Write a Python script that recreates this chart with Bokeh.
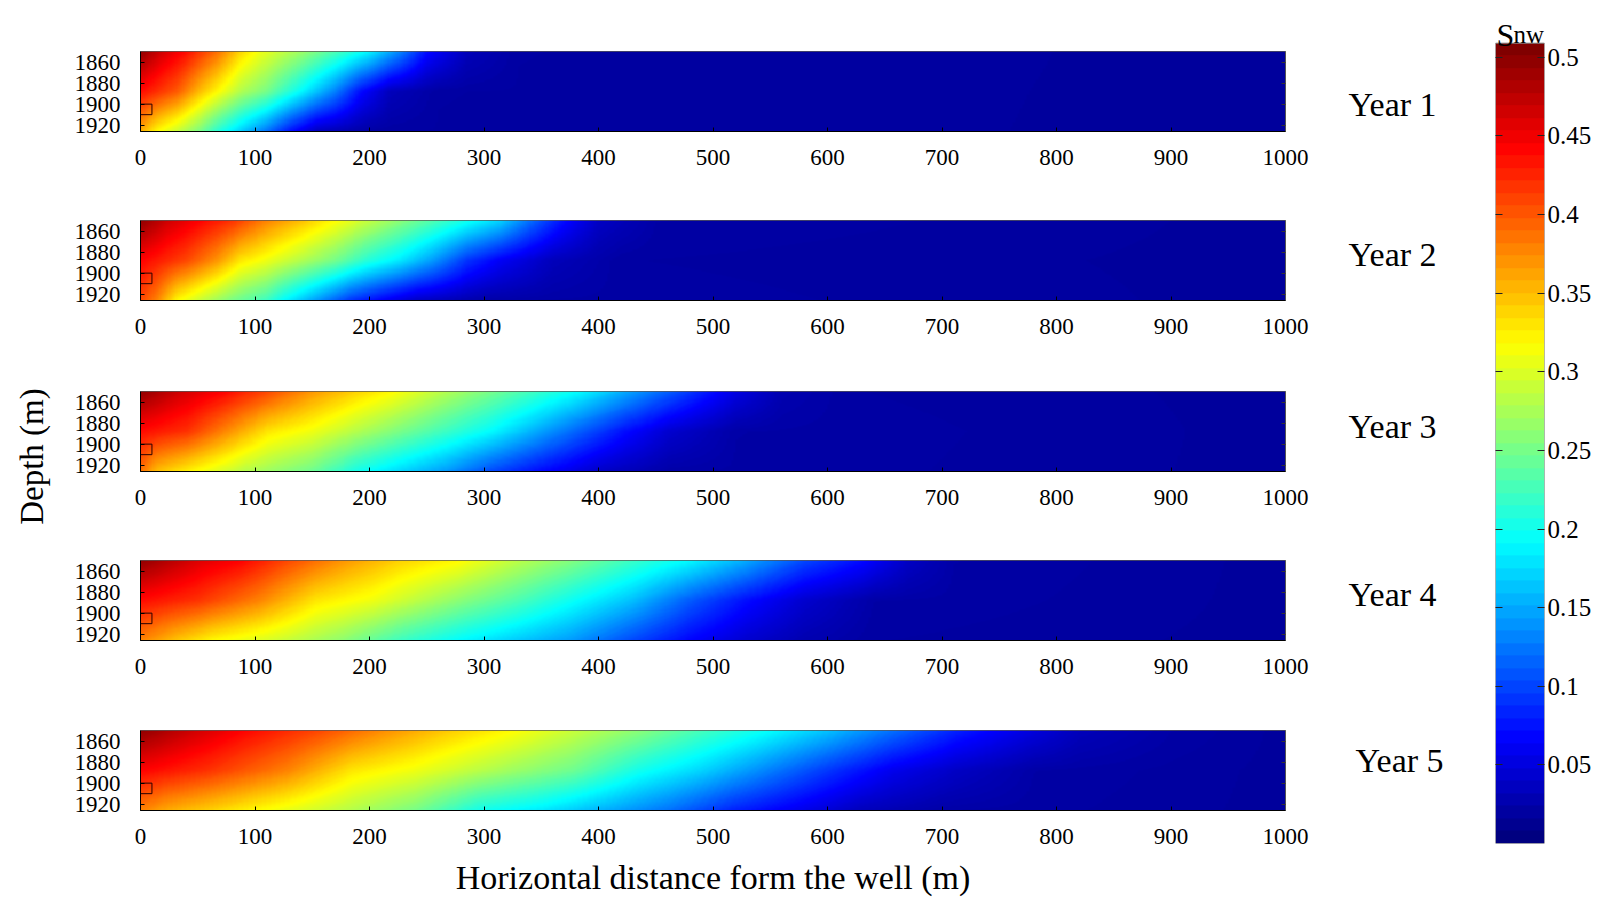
import numpy as np
from bokeh.plotting import figure
from bokeh.layouts import column, row
from bokeh.models import (Range1d, LinearAxis, FixedTicker,
                          LinearColorMapper, CustomJSTickFormatter)
from bokeh.core.properties import value
from bokeh.embed import file_html
from bokeh.resources import INLINE

# ---------------- data ----------------
YEARS = ["Year 1", "Year 2", "Year 3", "Year 4", "Year 5"]
X_TICKS = [0, 100, 200, 300, 400, 500, 600, 700, 800, 900, 1000]
DEPTH_TICKS = [1860, 1880, 1900, 1920]
CBAR_TICKS = [0.05, 0.1, 0.15, 0.2, 0.25, 0.3, 0.35, 0.4, 0.45, 0.5]
X_MAX = 1000
DEPTH_TOP, DEPTH_MID, DEPTH_BOT = 1850, 1888, 1926
S_LOW, S_HIGH = 0.0, 0.509
WELL_X = [0, 10]
WELL_DEPTH = [1900, 1910]

# saturation (Snw) read along the top, middle and bottom of each section
Y1_TOP_X = [0, 17, 40, 67, 87, 105, 140, 169, 198, 227, 250, 285, 330, 1000]
Y1_TOP_S = [0.50, 0.47, 0.44, 0.39, 0.34, 0.31, 0.27, 0.23, 0.19, 0.13, 0.07, 0.03, 0.018, 0.015]
Y1_MID_X = [0, 32, 52, 67, 87, 110, 140, 169, 192, 218, 260, 1000]
Y1_MID_S = [0.44, 0.40, 0.35, 0.32, 0.28, 0.25, 0.19, 0.13, 0.07, 0.03, 0.018, 0.015]
Y1_BOT_X = [0, 14, 32, 52, 67, 81, 110, 131, 154, 200, 1000]
Y1_BOT_S = [0.36, 0.32, 0.29, 0.25, 0.21, 0.18, 0.12, 0.07, 0.03, 0.018, 0.015]

Y2_TOP_X = [0, 23, 52, 81, 110, 140, 169, 198, 227, 256, 285, 314, 340, 370, 400, 450, 1000]
Y2_TOP_S = [0.50, 0.47, 0.445, 0.42, 0.38, 0.35, 0.32, 0.29, 0.26, 0.23, 0.20, 0.17, 0.12, 0.07, 0.035, 0.02, 0.015]
Y2_MID_X = [0, 40, 67, 87, 110, 140, 169, 198, 227, 256, 285, 314, 360, 420, 1000]
Y2_MID_S = [0.445, 0.41, 0.37, 0.33, 0.31, 0.28, 0.25, 0.21, 0.18, 0.14, 0.09, 0.06, 0.03, 0.018, 0.015]
Y2_BOT_X = [0, 14, 32, 52, 81, 110, 125, 154, 183, 212, 241, 300, 1000]
Y2_BOT_S = [0.41, 0.38, 0.32, 0.29, 0.25, 0.22, 0.19, 0.14, 0.09, 0.06, 0.035, 0.02, 0.015]

Y3_TOP_X = [0, 33, 72, 111, 150, 189, 220, 267, 306, 345, 384, 423, 462, 490, 520, 560, 620, 1000]
Y3_TOP_S = [0.50, 0.47, 0.445, 0.41, 0.37, 0.34, 0.32, 0.28, 0.25, 0.22, 0.19, 0.15, 0.11, 0.08, 0.05, 0.025, 0.018, 0.015]
Y3_MID_X = [0, 41, 72, 111, 150, 189, 228, 267, 306, 345, 384, 423, 462, 520, 1000]
Y3_MID_S = [0.44, 0.42, 0.38, 0.33, 0.31, 0.28, 0.25, 0.22, 0.19, 0.15, 0.11, 0.07, 0.04, 0.02, 0.015]
Y3_BOT_X = [0, 14, 45, 92, 150, 189, 228, 267, 306, 345, 403, 462, 1000]
Y3_BOT_S = [0.39, 0.35, 0.32, 0.28, 0.245, 0.20, 0.17, 0.14, 0.10, 0.07, 0.035, 0.02, 0.015]

Y4_TOP_X = [0, 53, 88, 128, 178, 228, 278, 328, 378, 429, 479, 529, 579, 629, 670, 710, 1000]
Y4_TOP_S = [0.50, 0.46, 0.445, 0.41, 0.37, 0.34, 0.32, 0.285, 0.255, 0.22, 0.19, 0.15, 0.10, 0.07, 0.035, 0.02, 0.015]
Y4_MID_X = [0, 50, 103, 153, 203, 278, 328, 378, 429, 479, 529, 579, 640, 1000]
Y4_MID_S = [0.44, 0.42, 0.38, 0.33, 0.31, 0.26, 0.23, 0.195, 0.16, 0.11, 0.07, 0.04, 0.02, 0.015]
Y4_BOT_X = [0, 28, 63, 128, 178, 228, 278, 328, 378, 429, 479, 529, 579, 640, 1000]
Y4_BOT_S = [0.38, 0.35, 0.32, 0.29, 0.26, 0.22, 0.19, 0.165, 0.14, 0.10, 0.065, 0.04, 0.025, 0.018, 0.015]

Y5_TOP_X = [0, 45, 89, 156, 212, 267, 323, 379, 435, 490, 546, 602, 657, 713, 773, 820, 900, 1000]
Y5_TOP_S = [0.50, 0.47, 0.445, 0.41, 0.375, 0.345, 0.32, 0.29, 0.26, 0.225, 0.195, 0.16, 0.12, 0.08, 0.05, 0.03, 0.02, 0.015]
Y5_MID_X = [0, 60, 128, 184, 240, 323, 379, 435, 490, 546, 602, 657, 713, 780, 1000]
Y5_MID_S = [0.445, 0.42, 0.38, 0.33, 0.31, 0.27, 0.245, 0.20, 0.17, 0.13, 0.09, 0.055, 0.035, 0.02, 0.015]
Y5_BOT_X = [0, 22, 61, 100, 184, 240, 295, 351, 407, 462, 518, 574, 630, 700, 1000]
Y5_BOT_S = [0.38, 0.36, 0.34, 0.32, 0.28, 0.25, 0.20, 0.18, 0.15, 0.12, 0.08, 0.055, 0.03, 0.02, 0.015]

SECTIONS = [
    (Y1_TOP_X, Y1_TOP_S, Y1_MID_X, Y1_MID_S, Y1_BOT_X, Y1_BOT_S),
    (Y2_TOP_X, Y2_TOP_S, Y2_MID_X, Y2_MID_S, Y2_BOT_X, Y2_BOT_S),
    (Y3_TOP_X, Y3_TOP_S, Y3_MID_X, Y3_MID_S, Y3_BOT_X, Y3_BOT_S),
    (Y4_TOP_X, Y4_TOP_S, Y4_MID_X, Y4_MID_S, Y4_BOT_X, Y4_BOT_S),
    (Y5_TOP_X, Y5_TOP_S, Y5_MID_X, Y5_MID_S, Y5_BOT_X, Y5_BOT_S),
]

# ---------------- styling / layout ----------------
FONT = "Liberation Serif"
TICK_FONT_SIZE = "23px"


def jet(n):
    cols = []
    for i in range(n):
        t = i / (n - 1)
        r = min(max(1.5 - abs(4 * t - 3), 0), 1)
        g = min(max(1.5 - abs(4 * t - 2), 0), 1)
        b = min(max(1.5 - abs(4 * t - 1), 0), 1)
        cols.append("#%02x%02x%02x" % (int(round(r * 255)), int(round(g * 255)), int(round(b * 255))))
    return cols


mapper = LinearColorMapper(palette=jet(256), low=S_LOW, high=S_HIGH)
mapper64 = LinearColorMapper(palette=jet(64), low=S_LOW, high=S_HIGH)

NX, NY = 500, 76


def section_image(tx, ts, mx, ms, bx, bs):
    xc = (np.arange(NX) + 0.5) * X_MAX / NX
    top = np.interp(xc, tx, ts)
    mid = np.interp(xc, mx, ms)
    bot = np.interp(xc, bx, bs)
    dc = DEPTH_TOP + (np.arange(NY) + 0.5) * (DEPTH_BOT - DEPTH_TOP) / NY
    rows = []
    for d in dc:
        if d <= DEPTH_MID:
            t = (d - DEPTH_TOP) / (DEPTH_MID - DEPTH_TOP)
            rows.append(top * (1 - t) + mid * t)
        else:
            t = (d - DEPTH_MID) / (DEPTH_BOT - DEPTH_MID)
            rows.append(mid * (1 - t) + bot * t)
    return np.array(rows)


def blank(width, height, x_range, y_range):
    f = figure(width=width, height=height, x_range=x_range, y_range=y_range,
               min_border=0, x_axis_location=None, y_axis_location=None,
               toolbar_location=None, output_backend="svg",
               background_fill_color="white", border_fill_color="white")
    f.grid.visible = False
    f.outline_line_color = None
    return f


# per panel: figure height, top border, bottom border
PANEL_LAYOUT = [(176, 51, 45), (169, 44, 45), (171, 46, 45), (169, 44, 45), (215, 45, 90)]

panels = []
for k, (sec, lay) in enumerate(zip(SECTIONS, PANEL_LAYOUT)):
    h, bt, bb = lay
    p = figure(width=1255, height=h, x_range=Range1d(0, X_MAX),
               y_range=Range1d(DEPTH_BOT, DEPTH_TOP),
               min_border_left=80, min_border_right=30,
               min_border_top=bt, min_border_bottom=bb,
               toolbar_location=None, output_backend="svg",
               background_fill_color="white", border_fill_color="white")
    img = section_image(*sec)
    p.image(image=[img], x=0, y=DEPTH_TOP, dw=X_MAX, dh=DEPTH_BOT - DEPTH_TOP,
            color_mapper=mapper)
    p.quad(left=[WELL_X[0]], right=[WELL_X[1]], top=[WELL_DEPTH[0]], bottom=[WELL_DEPTH[1]],
           fill_color=None, line_color="#2a0000", line_width=1)
    p.grid.visible = False
    p.outline_line_color = "#555555"
    p.xaxis.ticker = FixedTicker(ticks=X_TICKS)
    p.yaxis.ticker = FixedTicker(ticks=DEPTH_TICKS)
    for ax in (p.xaxis[0], p.yaxis[0]):
        ax.major_label_text_font = FONT
        ax.major_label_text_font_size = TICK_FONT_SIZE
        ax.major_label_text_color = "black"
        ax.axis_line_color = "black"
        ax.major_tick_line_color = "black"
        ax.major_tick_in = 4
        ax.major_tick_out = 0
        ax.minor_tick_line_color = None
    p.xaxis.major_label_standoff = 18
    p.yaxis.major_label_standoff = 20
    rax = LinearAxis(ticker=FixedTicker(ticks=DEPTH_TICKS), major_label_text_font_size="0px",
                     major_tick_in=4, major_tick_out=0, minor_tick_line_color=None,
                     axis_line_color="#555555", major_tick_line_color="#333333",
                     major_label_standoff=0)
    p.add_layout(rax, "right")
    panels.append(p)

# x axis title on the lowest section
panels[-1].xaxis.axis_label = "Horizontal distance form the well (m)"
panels[-1].xaxis.axis_label_text_font = FONT
panels[-1].xaxis.axis_label_text_font_size = "34px"
panels[-1].xaxis.axis_label_text_font_style = "normal"
panels[-1].xaxis.axis_label_text_color = "black"
panels[-1].xaxis.axis_label_standoff = 12

# left strip: y axis title
left = blank(60, 900, Range1d(0, 60), Range1d(900, 0))
left.text(x=[31], y=[456], text=["Depth (m)"], angle=np.pi / 2,
          text_font=value(FONT), text_font_size="33px", text_color="black",
          text_align="center", text_baseline="middle")

# right strip: year labels
YEAR_X = [1392, 1392, 1392, 1392, 1399]
YEAR_Y = [104, 254, 426, 594, 760]
years = blank(165, 900, Range1d(1315, 1480), Range1d(900, 0))
years.text(x=YEAR_X, y=YEAR_Y, text=YEARS, text_font=value(FONT), text_font_size="34px",
           text_color="black", text_align="center", text_baseline="middle")

# ---------------- colour bar ----------------
CB_FRAME_H = 843          # frame from canvas top (0) to 843 px
CB_BAR_TOP_PX = 42.7      # colour bar top, px from canvas top
CB_LEFT_PX, CB_W_PX = 1495, 49
y_end = S_LOW + (S_HIGH - S_LOW) * CB_FRAME_H / (CB_FRAME_H - CB_BAR_TOP_PX)

cb = figure(width=128, height=900, x_range=Range1d(0, 1), y_range=Range1d(S_LOW, y_end),
            min_border_left=15, min_border_right=64, min_border_top=0,
            min_border_bottom=900 - CB_FRAME_H,
            x_axis_location=None, y_axis_location=None,
            toolbar_location=None, output_backend="svg",
            background_fill_color="white", border_fill_color="white")
levels = S_LOW + (np.arange(64) + 0.5) * (S_HIGH - S_LOW) / 64
cb.image(image=[levels.reshape(64, 1)], x=0, y=S_LOW, dw=1, dh=S_HIGH - S_LOW,
         color_mapper=mapper64)
cb.quad(left=[0], right=[1], bottom=[S_LOW], top=[S_HIGH], fill_color=None,
        line_color="#777777", line_width=1)
cb.grid.visible = False
cb.outline_line_color = None


def px_to_cb(xpx, ypx):
    return (xpx - CB_LEFT_PX) / CB_W_PX, y_end * (1 - ypx / CB_FRAME_H)


sx, sy = px_to_cb(1496, 34)
nx_, ny_ = px_to_cb(1513, 34)
cb.text(x=[sx], y=[sy], text=["S"], text_font=value(FONT), text_font_size="32px",
        text_color="black", text_align="left", text_baseline="alphabetic")
cb.text(x=[nx_], y=[ny_], text=["nw"], text_font=value(FONT), text_font_size="25px",
        text_color="black", text_align="left", text_baseline="alphabetic")

fmt = CustomJSTickFormatter(code="return String(Number(tick.toFixed(2)));")
rax = LinearAxis(ticker=FixedTicker(ticks=CBAR_TICKS), formatter=fmt,
                 major_label_text_font=FONT, major_label_text_font_size="25px",
                 major_label_text_color="black", major_tick_in=7, major_tick_out=0,
                 minor_tick_line_color=None, axis_line_color=None,
                 major_tick_line_color="#222222", major_label_standoff=3)
lax = LinearAxis(ticker=FixedTicker(ticks=CBAR_TICKS), major_label_text_font_size="0px",
                 major_tick_in=7, major_tick_out=0, minor_tick_line_color=None,
                 axis_line_color=None, major_tick_line_color="#222222",
                 major_label_standoff=0)
cb.add_layout(rax, "right")
cb.add_layout(lax, "left")

layout = row(column(left), column(*panels, spacing=0), column(years), column(cb), spacing=0)

open("out.html", "w").write(file_html(layout, INLINE))
